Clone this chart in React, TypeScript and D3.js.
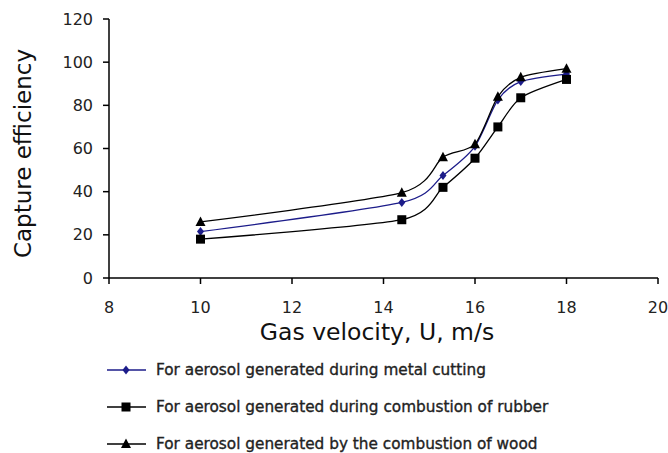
import React from "react";
import * as d3 from "d3";

const velocities = [10, 14.4, 15.3, 16, 16.5, 17, 18];
const metalCutting = [21.5, 35, 47.5, 61, 82.5, 91, 94.5];
const rubber = [18, 27, 42, 55.5, 70, 83.5, 92];
const wood = [26, 39.5, 56, 62, 84, 93, 97];

const xTicks = [8, 10, 12, 14, 16, 18, 20];
const yTicks = [0, 20, 40, 60, 80, 100, 120];

const seriesNames = [
  "For aerosol generated during metal cutting",
  "For aerosol generated during combustion of rubber",
  "For aerosol generated by the combustion of wood",
];

const W = 668;
const H = 453;

export default function App() {
  const x = d3.scaleLinear().domain([8, 20]).range([109, 658]);
  const y = d3.scaleLinear().domain([0, 120]).range([278, 19]);

  const line = d3
    .line<[number, number]>()
    .x((d) => x(d[0]))
    .y((d) => y(d[1]))
    .curve(d3.curveCardinal.tension(0.25));

  const series = [
    { name: seriesNames[0], values: metalCutting, color: "#1c1c8a", marker: "diamond" },
    { name: seriesNames[1], values: rubber, color: "#000", marker: "square" },
    { name: seriesNames[2], values: wood, color: "#000", marker: "triangle" },
  ];

  const marker = (type: string, cx: number, cy: number, color: string, key: string) => {
    if (type === "square") {
      return <rect key={key} x={cx - 4.5} y={cy - 4.5} width={9} height={9} fill={color} />;
    }
    if (type === "triangle") {
      return (
        <path key={key} d={`M${cx},${cy - 5.5} L${cx + 5},${cy + 4} L${cx - 5},${cy + 4} Z`} fill={color} />
      );
    }
    return (
      <path key={key} d={`M${cx},${cy - 4.5} L${cx + 3.5},${cy} L${cx},${cy + 4.5} L${cx - 3.5},${cy} Z`} fill={color} />
    );
  };

  const font = "'DejaVu Sans', Verdana, sans-serif";

  return (
    <svg
      width={W}
      height={H}
      style={{ position: "absolute", left: 0, top: 0, background: "#fff" }}
      fontFamily={font}
    >
      <rect x={0} y={0} width={W} height={H} fill="#fff" />
      {/* axes */}
      <line x1={x(8)} x2={x(8)} y1={y(120)} y2={y(0)} stroke="#000" strokeWidth={1.5} />
      <line x1={x(8)} x2={x(20)} y1={y(0)} y2={y(0)} stroke="#000" strokeWidth={1.5} />
      {yTicks.map((t) => (
        <g key={"y" + t}>
          <line x1={x(8) - 6} x2={x(8)} y1={y(t)} y2={y(t)} stroke="#000" strokeWidth={1.5} />
          <text x={93} y={y(t)} dy="0.35em" textAnchor="end" fontSize={16} fill="#222">
            {t}
          </text>
        </g>
      ))}
      {xTicks.map((t) => (
        <g key={"x" + t}>
          <line x1={x(t)} x2={x(t)} y1={y(0)} y2={y(0) + 6} stroke="#000" strokeWidth={1.5} />
          <text x={x(t)} y={307} dy="0.35em" textAnchor="middle" fontSize={16} fill="#222">
            {t}
          </text>
        </g>
      ))}
      <text
        transform={`translate(23,${(y(0) + y(120)) / 2 + 5}) rotate(-90)`}
        textAnchor="middle"
        dy="0.35em"
        fontSize={23}
        fill="#111"
      >
        Capture efficiency
      </text>
      <text x={377} y={332} textAnchor="middle" dy="0.35em" fontSize={23.5} fill="#111">
        Gas velocity, U, m/s
      </text>

      {/* series */}
      {series.map((s, si) => {
        const pts: [number, number][] = velocities.map((v, i) => [v, s.values[i]]);
        return (
          <g key={"s" + si}>
            <path d={line(pts) || ""} fill="none" stroke={s.color} strokeWidth={1.3} />
            {pts.map((p, i) => marker(s.marker, x(p[0]), y(p[1]), s.color, `m${si}-${i}`))}
          </g>
        );
      })}

      {/* legend */}
      {series.map((s, si) => {
        const ly = 370 + si * 37;
        return (
          <g key={"l" + si}>
            <line x1={107} x2={146} y1={ly} y2={ly} stroke={s.color} strokeWidth={1.3} />
            {marker(s.marker, 126, ly, s.color, "lm" + si)}
            <text
              x={156}
              y={ly}
              dy="0.35em"
              fontSize={15.3}
              fill="#222"
              stroke="#222"
              strokeWidth={0.35}
            >
              {s.name}
            </text>
          </g>
        );
      })}
    </svg>
  );
}
